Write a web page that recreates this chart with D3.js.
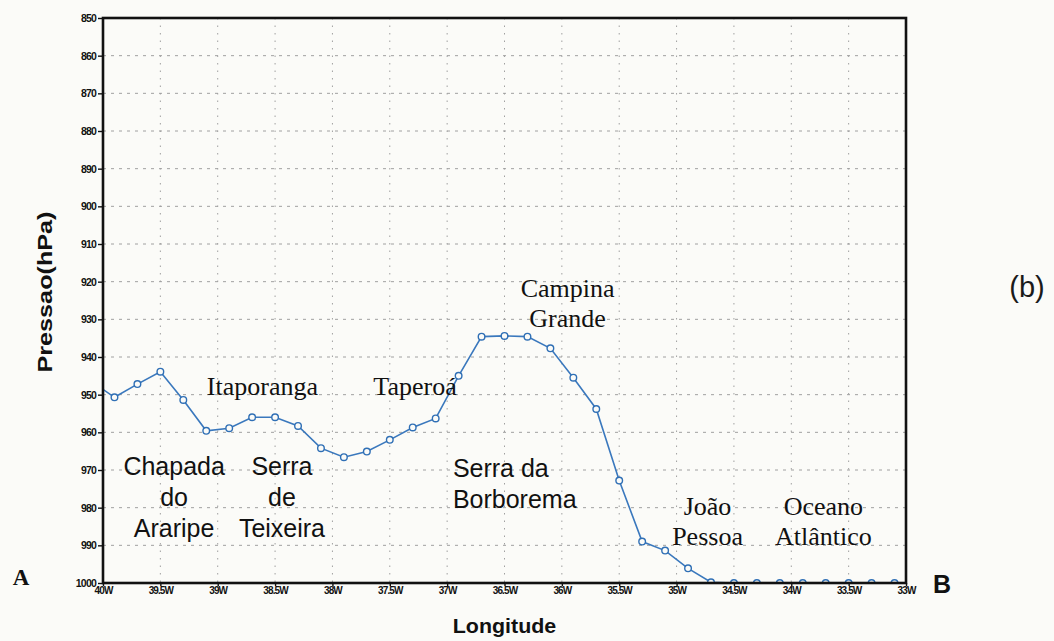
<!DOCTYPE html>
<html>
<head>
<meta charset="UTF-8">
<title>Pressão ao longo do perfil A-B</title>
<script src="https://cdn.jsdelivr.net/npm/d3@7/dist/d3.min.js"></script>
<style>
    html, body { margin: 0; padding: 0; background: #fbfbf8; }
    #chart { width: 1054px; height: 641px; }
    .tick text { font-family: "Liberation Sans", Arial, sans-serif; fill: #111; font-weight: bold; }
    .tick line { stroke: #111; stroke-width: 1.4; }
    .grid line { stroke: #a0a0a0; stroke-width: 1; }
</style>
</head>
<body>
<div id="chart"></div>
<script>
    // longitude of each profile point (degrees, negative = West)
    const longitudes = [-40.1, -39.9, -39.7, -39.5, -39.3, -39.1, -38.9, -38.7, -38.5, -38.3,
                        -38.1, -37.9, -37.7, -37.5, -37.3, -37.1, -36.9, -36.7, -36.5, -36.3,
                        -36.1, -35.9, -35.7, -35.5, -35.3, -35.1, -34.9, -34.7, -34.5, -34.3,
                        -34.1, -33.9, -33.7, -33.5, -33.3, -33.1];
    // surface pressure (hPa)
    const pressures = [946.5, 950.7, 947.2, 943.9, 951.4, 959.6, 958.9, 956.0, 956.0, 958.3,
                       964.2, 966.6, 965.1, 962.0, 958.7, 956.3, 945.0, 934.6, 934.4, 934.6,
                       937.7, 945.5, 953.8, 972.8, 989.0, 991.4, 996.1, 999.8, 1000, 1000,
                       1000, 1000, 1000, 1000, 1000, 1000];

    const lonTicks = [-40, -39.5, -39, -38.5, -38, -37.5, -37, -36.5, -36, -35.5, -35, -34.5, -34, -33.5, -33];
    const pressTicks = [850, 860, 870, 880, 890, 900, 910, 920, 930, 940, 950, 960, 970, 980, 990, 1000];

    // place names on the profile (lon, pressure of first baseline)
    const placeNames = [
        { lines: ["Itaporanga"], lon: -38.61, p: 950.1 },
        { lines: ["Taperoá"], lon: -37.28, p: 950.1 },
        { lines: ["Campina", "Grande"], lon: -35.95, p: 924.1 },
        { lines: ["João", "Pessoa"], lon: -34.73, p: 981.9 },
        { lines: ["Oceano", "Atlântico"], lon: -33.72, p: 981.9 }
    ];
    // relief names
    const reliefNames = [
        { lines: ["Chapada", "do", "Araripe"], lon: -39.38, p: 971.3, anchor: "middle" },
        { lines: ["Serra", "de", "Teixeira"], lon: -38.44, p: 971.3, anchor: "middle" },
        { lines: ["Serra da", "Borborema"], lon: -36.95, p: 971.9, anchor: "start" }
    ];

    const margin = { top: 18, right: 148, bottom: 58, left: 103 };
    const width = 1054 - margin.left - margin.right;
    const height = 641 - margin.top - margin.bottom;

    const svg = d3.select("#chart")
        .append("svg")
        .attr("width", 1054)
        .attr("height", 641);

    const g = svg.append("g")
        .attr("transform", `translate(${margin.left},${margin.top})`);

    const x = d3.scaleLinear().domain([-40, -33]).range([0, width]);
    const y = d3.scaleLinear().domain([850, 1000]).range([0, height]);

    // grid
    g.append("g").attr("class", "grid")
        .selectAll("line.h")
        .data(pressTicks.slice(1, -1))
        .join("line")
        .attr("x1", 0).attr("x2", width)
        .attr("y1", d => y(d)).attr("y2", d => y(d))
        .attr("stroke-dasharray", "3,5");

    g.append("g").attr("class", "grid")
        .selectAll("line.v")
        .data(lonTicks.slice(1, -1))
        .join("line")
        .attr("x1", d => x(d)).attr("x2", d => x(d))
        .attr("y1", 0).attr("y2", height)
        .attr("stroke-dasharray", "1.5,6");

    // axes
    const yAxis = g.append("g")
        .call(d3.axisLeft(y).tickValues(pressTicks).tickSize(5).tickPadding(2)
            .tickFormat(d3.format("d")));
    yAxis.selectAll(".tick text").style("font-size", "10.5px").style("letter-spacing", "-0.8px");
    yAxis.select(".domain").remove();

    const xAxis = g.append("g")
        .attr("transform", `translate(0,${height})`)
        .call(d3.axisBottom(x).tickValues(lonTicks).tickSize(3).tickPadding(1)
            .tickFormat(d => Math.abs(d) + "W"));
    xAxis.selectAll(".tick text").style("font-size", "10px").style("letter-spacing", "-0.9px");
    xAxis.select(".domain").remove();

    // clip to plot area
    svg.append("defs").append("clipPath").attr("id", "plot-clip")
        .append("rect").attr("width", width).attr("height", height);

    const points = longitudes.map((lon, i) => ({ lon: lon, p: pressures[i] }));

    const line = d3.line()
        .x(d => x(d.lon))
        .y(d => y(d.p));

    const series = g.append("g").attr("clip-path", "url(#plot-clip)");

    series.append("path")
        .datum(points)
        .attr("fill", "none")
        .attr("stroke", "#3a78bd")
        .attr("stroke-width", 1.6)
        .attr("d", line);

    series.selectAll("circle")
        .data(points)
        .join("circle")
        .attr("cx", d => x(d.lon))
        .attr("cy", d => y(d.p))
        .attr("r", 3.3)
        .attr("fill", "#fbfbf8")
        .attr("stroke", "#2f6fb5")
        .attr("stroke-width", 1.4);

    // frame
    g.append("rect")
        .attr("width", width)
        .attr("height", height)
        .attr("fill", "none")
        .attr("stroke", "#111")
        .attr("stroke-width", 2.6);

    // annotations
    function multiLine(sel, item, lineGap) {
        item.lines.forEach((t, i) => {
            sel.append("tspan")
                .attr("x", x(item.lon))
                .attr("dy", i === 0 ? 0 : lineGap)
                .text(t);
        });
    }

    placeNames.forEach(item => {
        const t = g.append("text")
            .attr("y", y(item.p))
            .attr("text-anchor", "middle")
            .attr("font-family", "'Liberation Serif', 'Times New Roman', serif")
            .attr("font-size", "26px")
            .attr("fill", "#111");
        multiLine(t, item, 30);
    });

    reliefNames.forEach(item => {
        const t = g.append("text")
            .attr("y", y(item.p))
            .attr("text-anchor", item.anchor)
            .attr("font-family", "'Liberation Sans', Arial, sans-serif")
            .attr("font-size", "25px")
            .attr("fill", "#111");
        multiLine(t, item, 31);
    });

    // axis titles
    svg.append("text")
        .attr("transform", `translate(${margin.left + x(-36.5)},633) scale(1.02,1)`)
        .attr("text-anchor", "middle")
        .attr("font-family", "'Liberation Sans', Arial, sans-serif")
        .attr("font-weight", "bold")
        .attr("font-size", "21px")
        .attr("fill", "#111")
        .text("Longitude");

    svg.append("text")
        .attr("transform", "translate(52,292) rotate(-90) scale(1.2,1)")
        .attr("text-anchor", "middle")
        .attr("font-family", "'Liberation Sans', Arial, sans-serif")
        .attr("font-weight", "bold")
        .attr("font-size", "21px")
        .attr("fill", "#111")
        .text("Pressao(hPa)");

    // profile end markers and panel letter
    svg.append("text")
        .attr("x", 21).attr("y", 585)
        .attr("text-anchor", "middle")
        .attr("font-family", "'Liberation Serif', serif")
        .attr("font-weight", "bold")
        .attr("font-size", "23px")
        .attr("fill", "#111")
        .text("A");

    svg.append("text")
        .attr("x", 942).attr("y", 593)
        .attr("text-anchor", "middle")
        .attr("font-family", "'Liberation Sans', Arial, sans-serif")
        .attr("font-weight", "bold")
        .attr("font-size", "25px")
        .attr("fill", "#111")
        .text("B");

    svg.append("text")
        .attr("x", 1027).attr("y", 297)
        .attr("text-anchor", "middle")
        .attr("font-family", "'Liberation Sans', Arial, sans-serif")
        .attr("font-size", "29px")
        .attr("fill", "#1a1a1a")
        .text("(b)");
</script>
</body>
</html>
